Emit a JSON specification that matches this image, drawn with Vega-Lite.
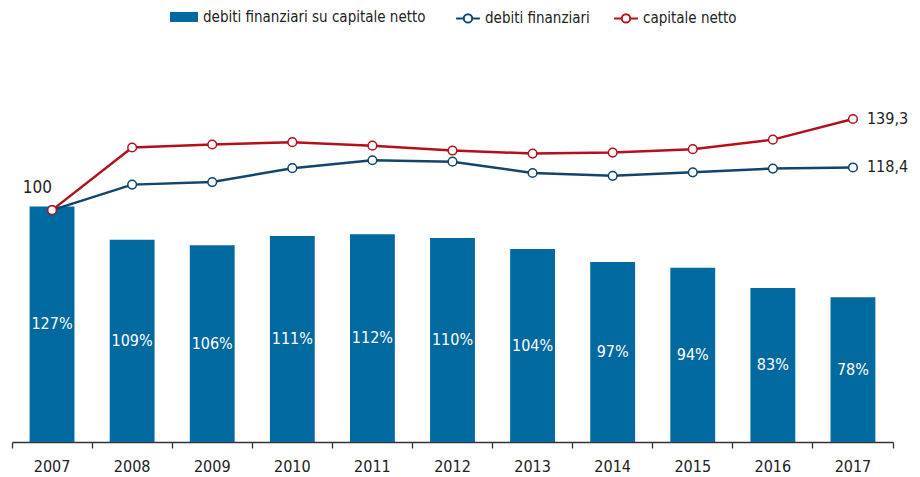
{
  "$schema": "https://vega.github.io/schema/vega-lite/v6.json",
  "width": 881,
  "height": 371,
  "autosize": "none",
  "padding": {"left": 12, "top": 71, "right": 27, "bottom": 35},
  "config": {
    "view": {"stroke": null},
    "font": "DejaVu Sans Condensed, Liberation Sans, sans-serif",
    "locale": {"number": {"decimal": ",", "thousands": ".", "grouping": [3], "currency": ["€", ""]}}
  },
  "datasets": {
    "bars": [
      {"anno": "2007", "ratio": 1.27},
      {"anno": "2008", "ratio": 1.09},
      {"anno": "2009", "ratio": 1.06},
      {"anno": "2010", "ratio": 1.11},
      {"anno": "2011", "ratio": 1.12},
      {"anno": "2012", "ratio": 1.10},
      {"anno": "2013", "ratio": 1.04},
      {"anno": "2014", "ratio": 0.97},
      {"anno": "2015", "ratio": 0.94},
      {"anno": "2016", "ratio": 0.83},
      {"anno": "2017", "ratio": 0.78}
    ],
    "lines": [
      {"anno": "2007", "serie": "debiti finanziari", "indice": 100},
      {"anno": "2008", "serie": "debiti finanziari", "indice": 111.0},
      {"anno": "2009", "serie": "debiti finanziari", "indice": 112.1},
      {"anno": "2010", "serie": "debiti finanziari", "indice": 118.1},
      {"anno": "2011", "serie": "debiti finanziari", "indice": 121.5},
      {"anno": "2012", "serie": "debiti finanziari", "indice": 120.9},
      {"anno": "2013", "serie": "debiti finanziari", "indice": 116.0},
      {"anno": "2014", "serie": "debiti finanziari", "indice": 114.8},
      {"anno": "2015", "serie": "debiti finanziari", "indice": 116.3},
      {"anno": "2016", "serie": "debiti finanziari", "indice": 117.9},
      {"anno": "2017", "serie": "debiti finanziari", "indice": 118.4},
      {"anno": "2007", "serie": "capitale netto", "indice": 100},
      {"anno": "2008", "serie": "capitale netto", "indice": 127.0},
      {"anno": "2009", "serie": "capitale netto", "indice": 128.3},
      {"anno": "2010", "serie": "capitale netto", "indice": 129.3},
      {"anno": "2011", "serie": "capitale netto", "indice": 127.8},
      {"anno": "2012", "serie": "capitale netto", "indice": 125.7},
      {"anno": "2013", "serie": "capitale netto", "indice": 124.4},
      {"anno": "2014", "serie": "capitale netto", "indice": 124.8},
      {"anno": "2015", "serie": "capitale netto", "indice": 126.3},
      {"anno": "2016", "serie": "capitale netto", "indice": 130.4},
      {"anno": "2017", "serie": "capitale netto", "indice": 139.3}
    ]
  },
  "encoding": {
    "x": {
      "field": "anno",
      "type": "ordinal",
      "scale": {"paddingInner": 0, "paddingOuter": 0},
      "axis": {
        "title": null,
        "labelAngle": 0,
        "bandPosition": 1,
        "tickExtra": true,
        "grid": false,
        "domainColor": "#333333",
        "domainWidth": 1.3,
        "tickColor": "#333333",
        "tickWidth": 1.3,
        "tickSize": 6,
        "labelFontSize": 16,
        "labelColor": "#222222",
        "labelPadding": 10
      }
    }
  },
  "layer": [
    {
      "data": {"name": "bars"},
      "mark": {"type": "bar", "width": {"band": 0.56}},
      "encoding": {
        "y": {"field": "ratio", "type": "quantitative", "scale": {"domain": [0, 2]}, "axis": null},
        "color": {
          "datum": "debiti finanziari su capitale netto",
          "type": "nominal",
          "scale": {
            "domain": ["debiti finanziari su capitale netto"],
            "range": ["#00699f"]
          },
          "legend": {
            "title": null,
            "orient": "none",
            "legendX": 158,
            "legendY": -68,
            "symbolType": "M-1,-0.36H1V0.36H-1Z",
            "symbolSize": 784,
            "symbolStrokeWidth": 0,
            "labelFontSize": 15,
            "labelColor": "#222222",
            "labelOffset": 5,
            "labelLimit": 600
          }
        }
      }
    },
    {
      "data": {"name": "bars"},
      "mark": {"type": "text", "color": "#ffffff", "fontSize": 16, "baseline": "middle", "align": "center"},
      "encoding": {
        "y": {"field": "ratio", "type": "quantitative", "scale": {"domain": [0, 4]}, "axis": null},
        "text": {"field": "ratio", "type": "quantitative", "format": ".0%"}
      }
    },
    {
      "data": {"name": "lines"},
      "mark": {
        "type": "line",
        "strokeWidth": 2.5,
        "point": {"filled": false, "fill": "#ffffff", "size": 75, "strokeWidth": 1.5, "opacity": 1}
      },
      "encoding": {
        "y": {"field": "indice", "type": "quantitative", "scale": {"domain": [0, 160]}, "axis": null},
        "stroke": {
          "field": "serie",
          "type": "nominal",
          "scale": {"domain": ["debiti finanziari", "capitale netto"], "range": ["#11446f", "#b2101c"]},
          "legend": {
            "title": null,
            "orient": "none",
            "direction": "horizontal",
            "legendX": 441,
            "legendY": -68,
            "symbolType": "M-0.85,0H-0.3M0.3,0H0.85M-0.3,0A0.3,0.3 0 1,0 0.3,0A0.3,0.3 0 1,0 -0.3,0",
            "symbolSize": 784,
            "symbolFillColor": "#ffffff",
            "symbolStrokeWidth": 2,
            "labelFontSize": 15,
            "labelColor": "#222222",
            "labelOffset": 2,
            "labelLimit": 600,
            "columnPadding": 20,
            "encode": {"symbols": {"update": {"fill": {"value": "#ffffff"}, "opacity": {"value": 1}}}}
          }
        }
      }
    },
    {
      "data": {"name": "lines"},
      "transform": [{"filter": "datum.anno === '2007' && datum.serie === 'capitale netto'"}],
      "mark": {"type": "text", "fontSize": 17, "color": "#222222", "align": "right", "baseline": "middle", "dy": -22, "dx": 0},
      "encoding": {
        "y": {"field": "indice", "type": "quantitative", "scale": {"domain": [0, 160]}, "axis": null},
        "text": {"field": "indice", "type": "quantitative", "format": "d"}
      }
    },
    {
      "data": {"name": "lines"},
      "transform": [{"filter": "datum.anno === '2017'"}],
      "mark": {"type": "text", "fontSize": 16, "color": "#222222", "align": "left", "baseline": "middle", "dx": 14},
      "encoding": {
        "y": {"field": "indice", "type": "quantitative", "scale": {"domain": [0, 160]}, "axis": null},
        "text": {"field": "indice", "type": "quantitative", "format": ".1f"}
      }
    }
  ],
  "resolve": {"scale": {"y": "independent"}}
}
